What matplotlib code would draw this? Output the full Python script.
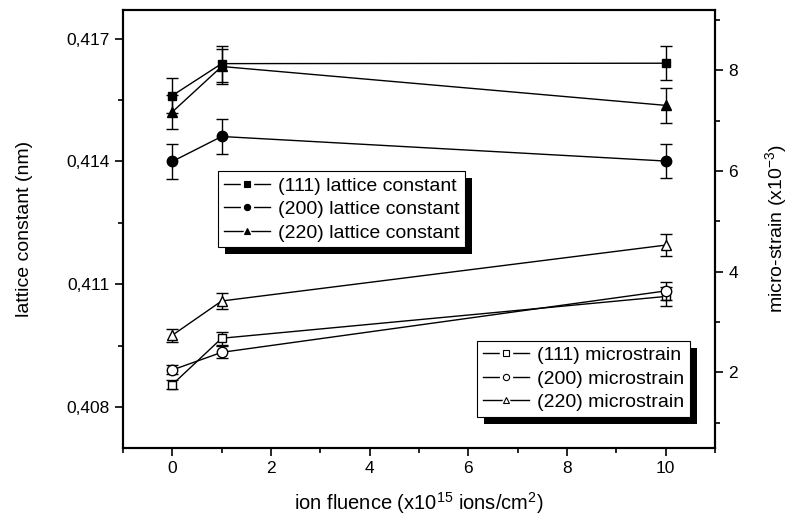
import matplotlib
matplotlib.use("Agg")
import matplotlib.pyplot as plt
from matplotlib.patches import Rectangle
from matplotlib.transforms import IdentityTransform
from matplotlib.lines import Line2D
from matplotlib.legend_handler import HandlerTuple
from matplotlib.ticker import FixedLocator, FuncFormatter

plt.rcParams['font.family'] = ['Liberation Sans', 'DejaVu Sans']
plt.rcParams['mathtext.default'] = 'regular'

# ---- data ----
fluence = [0, 1, 10]
lc111 = [0.41561, 0.41639, 0.41640]
lc111_err = [0.00042, 0.00044, 0.00042]
lc200 = [0.41400, 0.41461, 0.41401]
lc200_err = [0.00042, 0.00042, 0.00042]
lc220 = [0.41521, 0.41632, 0.41537]
lc220_err = [0.00042, 0.00043, 0.00042]

ms111 = [1.76, 2.68, 3.51]
ms111_err = [0.085, 0.13, 0.18]
ms200 = [2.05, 2.40, 3.62]
ms200_err = [0.09, 0.12, 0.18]
ms220 = [2.74, 3.42, 4.53]
ms220_err = [0.13, 0.16, 0.22]

lc_labels = ["(111) lattice constant", "(200) lattice constant", "(220) lattice constant"]
ms_labels = ["(111) microstrain", "(200) microstrain", "(220) microstrain"]
left_ticks = [0.408, 0.411, 0.414, 0.417]
right_ticks = [2, 4, 6, 8]
x_ticks = [0, 2, 4, 6, 8, 10]

fig = plt.figure(figsize=(7.9, 5.22), dpi=100)
ax = fig.add_axes([123/790, 1-448/522, (715-123)/790, (448-10)/522])
ax2 = ax.twinx()
ax.patch.set_visible(False)

lw = 1.0
cap = 4.5
markers = ['s', 'o', '^']
msizes = {'s': 6.0, 'o': 7.5, '^': 7.5}

for y, e, m in zip([lc111, lc200, lc220], [lc111_err, lc200_err, lc220_err], markers):
    ax.errorbar(fluence, y, yerr=e, fmt='none', ecolor='black', elinewidth=lw,
                capsize=cap, capthick=lw)
    ax.plot(fluence, y, color='black', lw=lw, marker=m, markersize=msizes[m],
            mfc='black', mec='black')

for y, e, m in zip([ms111, ms200, ms220], [ms111_err, ms200_err, ms220_err], markers):
    ax2.errorbar(fluence, y, yerr=e, fmt='none', ecolor='black', elinewidth=lw,
                 capsize=cap, capthick=lw)
    ax2.plot(fluence, y, color='black', lw=lw, marker=m, markersize=msizes[m],
             mfc='white', mec='black', mew=1.0)

ax.set_xlim(-1, 11)
ax.set_ylim(0.407, 0.4177)
ax2.set_ylim(0.5, 9.2)

ax.xaxis.set_major_locator(FixedLocator(x_ticks))
ax.xaxis.set_minor_locator(FixedLocator([-1, 1, 3, 5, 7, 9, 11]))
ax.yaxis.set_major_locator(FixedLocator(left_ticks))
ax.yaxis.set_minor_locator(FixedLocator([0.4095, 0.4125, 0.4155]))
ax.yaxis.set_major_formatter(FuncFormatter(lambda v, p: f"{v:.3f}".replace('.', ',')))
ax2.yaxis.set_major_locator(FixedLocator(right_ticks))
ax2.yaxis.set_minor_locator(FixedLocator([1, 3, 5, 7, 9]))

for a in (ax, ax2):
    for s in a.spines.values():
        s.set_linewidth(1.5)
    a.tick_params(which='major', direction='out', length=6, width=1.2, labelsize=12.5)
    a.tick_params(which='minor', direction='out', length=3.5, width=1.2)
ax.tick_params(top=False, right=False, which='both')
ax2.tick_params(left=False, which='both')

ax.set_xlabel("ion fluence (x10$^{15}$ ions/cm$^{2}$)", fontsize=14.5, labelpad=10)
ax.set_ylabel("lattice constant (nm)", fontsize=14, labelpad=24)
ax2.set_ylabel("micro-strain (x10$^{-3}$)", fontsize=14, labelpad=18)


def make_handle(m, filled):
    line = Line2D([], [], color='black', lw=lw)
    gap = Line2D([], [], ls='none', marker=m, ms=8.5, mfc='white', mec='white')
    mark = Line2D([], [], ls='none', marker=m, ms=4.5, mfc='black' if filled else 'white',
                  mec='black', mew=0.8)
    return (line, gap, mark)


h1 = [make_handle(m, True) for m in markers]
h2 = [make_handle(m, False) for m in markers]

legkw = dict(fontsize=14, frameon=True, fancybox=False, framealpha=1, edgecolor='black',
             handlelength=2.4, handletextpad=0.4, labelspacing=0.3, borderpad=0.3,
             borderaxespad=0, handler_map={tuple: HandlerTuple(ndivide=1, pad=0)})
leg1 = ax2.legend(h1, lc_labels, loc='upper left', bbox_to_anchor=(0.160, 0.632), **legkw)
leg1.get_frame().set_linewidth(0.8)
ax2.add_artist(leg1)
leg2 = ax2.legend(h2, ms_labels, loc='lower right', bbox_to_anchor=(0.958, 0.071), **legkw)
leg2.get_frame().set_linewidth(0.8)

fig.canvas.draw()
r = fig.canvas.get_renderer()
for lg in (leg1, leg2):
    bb = lg.get_window_extent(r)
    rect = Rectangle((bb.x0 + 7, bb.y0 - 7), bb.width, bb.height, transform=IdentityTransform(),
                     facecolor='black', edgecolor='none', zorder=4.5)
    ax2.add_artist(rect)

fig.savefig("out.png", dpi=100, facecolor='white')
